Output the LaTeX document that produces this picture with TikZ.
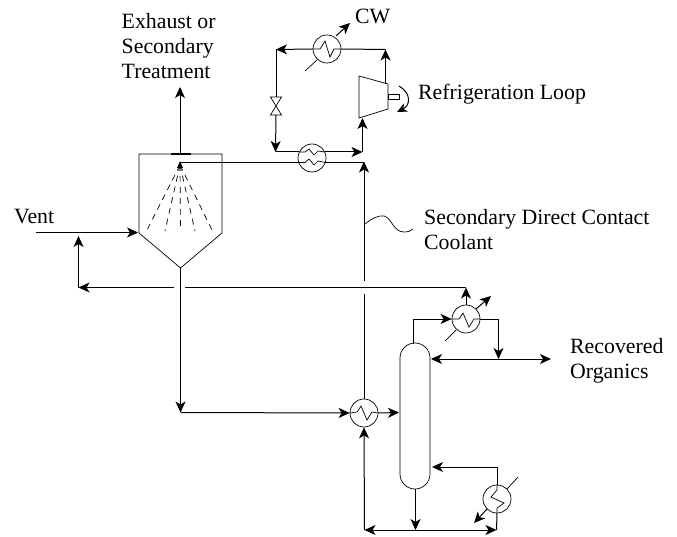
\documentclass[tikz,border=0pt]{standalone}
\usepackage{fontspec}
\setmainfont{Liberation Serif}
\usetikzlibrary{arrows.meta}
\tikzset{
 pipe/.style={line width=1pt,draw=black},
 flow/.style={pipe,-{Stealth[length=11pt,width=10pt,inset=3pt]}},
 flowboth/.style={pipe,{Stealth[length=11pt,width=10pt,inset=3pt]}-{Stealth[length=11pt,width=10pt,inset=3pt]}},
 thin line/.style={line width=0.7pt,draw=black},
 hx/.style={circle,draw=black,line width=0.7pt,minimum size=28pt,inner sep=0pt},
 lab/.style={font=\fontsize{21.8}{25}\selectfont,inner sep=0pt,align=left,anchor=west},
 spray/.style={line width=0.7pt,dash pattern=on 6pt off 5pt}
}
\begin{document}
\begin{tikzpicture}[x=1pt,y=-1pt]
\useasboundingbox (0,0) rectangle (677,537);
% named points
\node[hx] (cond) at (327,49) {};
\node[hx] (evap) at (312,158) {};
\node[hx] (ovhd) at (466,319) {};
\node[hx] (feed) at (364,413) {};
\node[hx] (reb) at (497,499) {};
\coordinate (apex) at (180.5,268);
\coordinate (tl) at (139,154);
\coordinate (tr) at (222,154);
\coordinate (bl) at (139,233);
\coordinate (br) at (222,233);
\coordinate (topmid) at (180,154);
\coordinate (nozzle) at (180,165);
% vessel
\draw[thin line] (bl) -- (tl) -- (tr) -- (br) -- (apex) -- cycle;
\draw[line width=1.2pt] (171,154) -- (191,154);
% spray
\foreach \ex/\ey in {146/232,165/231,180.5/230,195/231,213/232}
  \draw[spray] (nozzle) -- (\ex,\ey);
% top exhaust
\coordinate (exh) at (180,87);
\draw[flow] (topmid) -- (exh);
% vent
\coordinate (ventin) at (36,232.5);
\draw[flow] (ventin) -- (138,232.5);
% recycle to vent
\coordinate (rec1) at (78.5,287.5);
\coordinate (rec2) at (78.5,236);
\coordinate (gapL) at (174,287.5);
\coordinate (gapR) at (185,287.5);
\coordinate (ovup) at (466,287.5);
\draw[flow] (gapL) -- (rec1);
\draw[flow] (78.5,288) -- (rec2);
\draw[pipe] (gapR) -- (ovup);
\draw[flow] (ovhd.north) -- (ovup);
% bottoms
\coordinate (botc) at (180.5,412.5);
\draw[flow] (apex) -- (botc);
\draw[flow] (botc) -- (feed.west);
% column
\draw[thin line] (400,358) arc[start angle=180,end angle=360,radius=15] -- (430,474) arc[start angle=0,end angle=180,radius=15] -- cycle;
\coordinate (colL) at (399,412.5);
\coordinate (colR) at (432,467);
\coordinate (colRtop) at (431,359);
\coordinate (colT) at (413,344);
\coordinate (colB) at (415.5,489);
\draw[flow] (feed.east) -- (colL);
% coolant riser
\coordinate (gapU) at (364,294);
\coordinate (gapD) at (364,281);
\coordinate (rise) at (364,161.5);
\draw[pipe] (feed.north) -- (gapU);
\draw[flow] (gapD) -- (rise);
\coordinate (noz2) at (180,162.5);
\draw[pipe] (noz2) -- (298.6,162.5);
\draw[pipe] (325.4,162.5) -- (364,162.5);
\fill (180,161) -- (177,168) -- (183,168) -- cycle;
% overhead
\coordinate (ov1) at (413,319);
\draw[pipe] (colT) -- (ov1);
\draw[flow] (ov1) -- (ovhd.west);
\coordinate (ov2) at (498.5,319);
\coordinate (ov3) at (498.5,359);
\coordinate (prod) at (551,359);
\draw[pipe] (ovhd.east) -- (ov2);
\draw[flow] (ov2) -- (ov3);
\draw[flowboth] (colRtop) -- (prod);
% bottom loop
\coordinate (bb1) at (364.5,530);
\coordinate (bb2) at (496.5,530);
\coordinate (bb3) at (415.5,530);
\draw[flow] (colB) -- (bb3);
\draw[flowboth] (bb1) -- (bb2);
\draw[flow] (bb1) -- (feed.south);
\draw[pipe] (bb2) -- (reb.south);
\coordinate (rb1) at (497,467);
\draw[pipe] (reb.north) -- (rb1);
\draw[flow] (rb1) -- (colR);
% top loop
\coordinate (l1) at (385.5,49.5);
\coordinate (l2) at (276,49.5);
\coordinate (vt) at (276,97);
\coordinate (vb) at (276,115);
\coordinate (l3) at (275.5,152);
\coordinate (l4) at (362.5,152);
\coordinate (l5) at (362.5,118);
\coordinate (cTop) at (385.5,84);
\draw[flow] (cTop) -- (l1);
\draw[pipe] (l1) -- (cond.east);
\draw[flow] (cond.west) -- (l2);
\draw[pipe] (l2) -- (vt);
\draw[thin line] (270.5,97) -- (281.5,97) -- (270.5,115) -- (281.5,115) -- cycle;
\draw[flow] (vb) -- (l3);
\draw[pipe] (l3) -- (299.4,152);
\draw[flow] (324.6,152) -- (l4);
\draw[flow] (l4) -- (l5);
% compressor
\draw[thin line] (359,76) -- (388,84) -- (388,109) -- (359,118) -- cycle;
\draw[thin line] (388,94.5) rectangle (399,99.5);
\draw[pipe,-{Stealth[length=10pt,width=9pt,inset=3pt]}] (399,86) .. controls (411,93) and (411,105) .. (397,112);
% exchanger internals
\draw[thin line] (cond.west) -- (320,49) -- (325,41) -- (330,57) -- (334,49) -- (cond.east);
\draw[thin line] (ovhd.west) -- (459,319) -- (463,313) -- (469,327) -- (474,319) -- (ovhd.east);
\draw[thin line] (feed.west) -- (357,412) -- (361,406) -- (367,420) -- (372,412) -- (feed.east);
\draw[thin line] (reb.north) -- (497,490) -- (491,497) -- (504,503) -- (497,508) -- (reb.south);
\draw[thin line] (299.4,152) -- (305,152) -- (309,149) -- (314,155) -- (318,151) -- (324.6,152);
\draw[thin line] (298.6,162.5) -- (305,162.5) -- (309,159) -- (314,165) -- (318,161) -- (325.4,162.5);
% exchanger diagonals
\draw[thin line] (305,71) -- (317,60);
\draw[pipe,-{Stealth[length=11pt,width=10pt,inset=3pt]}] (336,36) -- (350,23);
\draw[thin line] (445,341) -- (456,330);
\draw[pipe,-{Stealth[length=11pt,width=10pt,inset=3pt]}] (476,309) -- (491,296);
\draw[thin line] (518,477) -- (507,489);
\draw[pipe,-{Stealth[length=11pt,width=10pt,inset=3pt]}] (487,509) -- (474,523);
% squiggle
\draw[thin line] (365,224) .. controls (371,219) and (378,215) .. (384,216) .. controls (392,218) and (393,232) .. (404,232) .. controls (408,232) and (411,231) .. (413,229);
% labels
\node[lab] (tExh) at (121.5,46.5) {Exhaust or\\Secondary\\Treatment};
\node[lab] (tCW) at (355,16) {CW};
\node[lab] (tRef) at (418,94) {Refrigeration Loop};
\node[lab] (tSec) at (424,230) {Secondary Direct Contact\\Coolant};
\node[lab] (tVent) at (14,216.5) {Vent};
\node[lab] (tRec) at (570,361) {Recovered\\Organics};
\end{tikzpicture}
\end{document}
